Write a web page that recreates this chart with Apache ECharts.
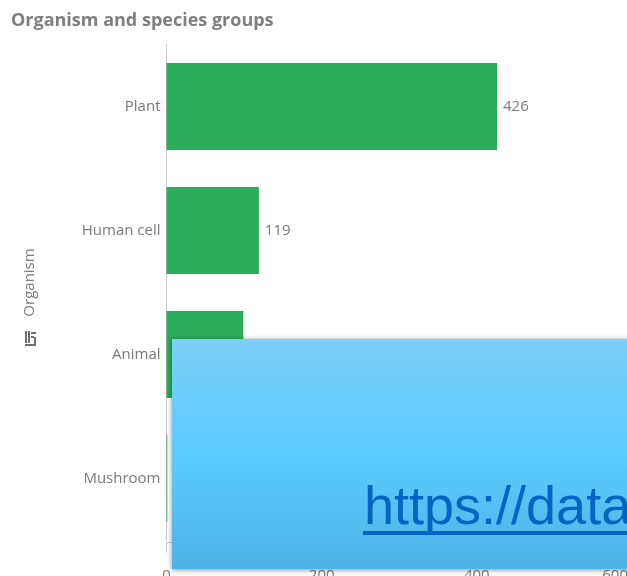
<!DOCTYPE html>
<html>
<head>
<meta charset="utf-8">
<style>html,body{margin:0;padding:0;background:#fff;overflow:hidden}#c{width:627px;height:576px}</style>
<script src="https://cdn.jsdelivr.net/npm/echarts@6/dist/echarts.min.js"></script>
</head>
<body>
<div id="c"></div>
<script>
const titleText = 'Organism and species groups';
const axisName = 'Organism';
const categories = ['Plant', 'Human cell', 'Animal', 'Mushroom'];
const counts = [426, 119, 99, 1];
const linkText = 'https://data';
const font = '"Open Sans", "Noto Sans", sans-serif';
const textGrey = '#7a7a7a';
const ruleGrey = '#cccccc';

const chart = echarts.init(document.getElementById('c'), null, {renderer: 'canvas'});

// Small field-type glyph drawn beside the axis name
const glyphBars = [
  [25, 331, 2, 12], [28, 331, 2, 12], [31, 332, 5, 2],
  [31, 336, 3, 2], [34, 337, 2, 8], [25, 344, 11, 2]
];
const glyph = glyphBars.map(b => ({
  type: 'rect', shape: {x: b[0], y: b[1], width: b[2], height: b[3]},
  style: {fill: '#707070'}
}));

chart.setOption({
  animation: false,
  backgroundColor: '#fff',
  grid: {left: 166.5, top: 44.5, width: 465.5, height: 496, containLabel: false, outerBoundsMode: 'none'},
  title: {
    text: titleText, left: 6, top: 7,
    textStyle: {fontFamily: font, fontSize: 18, fontWeight: 'bold', color: '#7f7f7f'}
  },
  xAxis: {
    type: 'value', min: 0, max: 600, interval: 200, offset: 2,
    splitLine: {show: false},
    axisLine: {show: true, lineStyle: {color: ruleGrey}},
    axisTick: {show: true, length: 10, lineStyle: {color: ruleGrey}},
    axisLabel: {
      margin: 26, fontFamily: font, fontSize: 15, color: textGrey,
      alignMaxLabel: 'right',
      formatter: v => v === 600 ? '{last|600}' : String(v),
      rich: {last: {fontFamily: font, fontSize: 15, color: textGrey, padding: [0, 4, 0, 0]}}
    }
  },
  yAxis: {
    type: 'category', inverse: true, data: categories,
    axisLine: {show: true, lineStyle: {color: ruleGrey, width: 1}},
    axisTick: {show: false},
    axisLabel: {margin: 6, fontFamily: font, fontSize: 15, color: textGrey, padding: [0, 0, 2, 0]},
    name: axisName, nameLocation: 'middle', nameGap: 129, nameRotate: 90,
    nameTextStyle: {fontFamily: font, fontSize: 15, color: textGrey, padding: [0, 0, 0, 20]}
  },
  series: [{
    type: 'bar', data: counts, barWidth: '70%',
    itemStyle: {color: '#2cab5a'},
    label: {
      show: true, position: 'right', distance: 6,
      fontFamily: font, fontSize: 15, color: textGrey
    }
  }],
  graphic: glyph.concat([
    {
      type: 'rect', z: 100, shape: {x: 172, y: 339, width: 470, height: 230},
      style: {
        fill: new echarts.graphic.LinearGradient(0, 0, 0, 1, [
          {offset: 0, color: '#7bd0f7'},
          {offset: 0.5, color: '#5ccbff'},
          {offset: 1, color: '#4db3e5'}
        ]),
        shadowColor: 'rgba(0,0,0,0.45)', shadowBlur: 5, shadowOffsetX: 0, shadowOffsetY: 1
      }
    },
    {
      type: 'text', z: 101, x: 364, y: 482,
      style: {text: linkText, fontFamily: '"Liberation Sans", Arial, sans-serif', fontSize: 54, fill: '#0563c1'}
    },
    {
      type: 'rect', z: 101, shape: {x: 363, y: 531, width: 264, height: 4},
      style: {fill: '#0563c1'}
    }
  ])
});
</script>
</body>
</html>
